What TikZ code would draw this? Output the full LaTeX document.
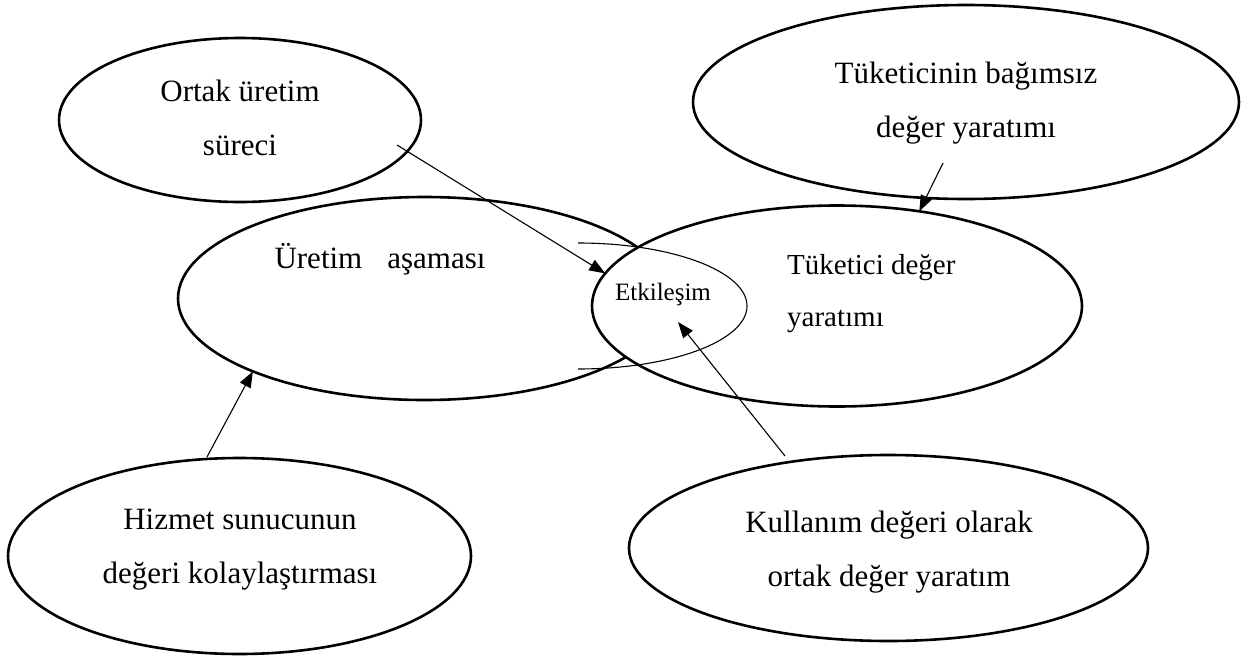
\documentclass[tikz,border=0pt]{standalone}
\usepackage{fontspec}
\setmainfont{Liberation Serif}
\usetikzlibrary{shapes.geometric,arrows.meta}
\begin{document}
\begin{tikzpicture}[x=1pt,y=-1pt,
  bubble/.style={draw, ellipse, line width=2.6pt, inner sep=0pt, outer sep=0pt},
  bigtext/.style={inner sep=0pt, align=center, font=\fontsize{31}{54}\selectfont},
  link/.style={line width=1.1pt, -{Triangle[length=16pt,width=12pt]}}
]
\useasboundingbox (0,0) rectangle (1254,659);

% outer bubbles
\node[bubble, minimum width=362pt, minimum height=164pt] (ortak) at (240,120) {};
\node[bubble, minimum width=546pt, minimum height=194pt] (bagimsiz) at (966,102) {};
\node[bubble, minimum width=493pt, minimum height=203pt] (uretim) at (424.5,298.5) {};
\node[bubble, fill=white, minimum width=490pt, minimum height=201pt] (tuketici) at (837,306) {};
\node[bubble, minimum width=463pt, minimum height=196pt] (hizmet) at (239.5,556) {};
\node[bubble, minimum width=519pt, minimum height=186pt] (kullanim) at (888.5,548) {};

% overlap zone
\draw[line width=1.1pt] (578,243) arc[start angle=90, end angle=-90, x radius=169pt, y radius=63pt];

% texts
\node[bigtext, anchor=north] (tOrtak) at (240,80) {Ortak üretim\\süreci};
\node[bigtext, anchor=north] (tBagimsiz) at (966,62) {Tüketicinin bağımsız\\değer yaratımı};
\node[bigtext, anchor=base] (tUretim) at (380,268) {Üretim\hspace{25pt}aşaması};
\node[inner sep=0pt, align=left, anchor=north west, font=\fontsize{29}{52}\selectfont] (tTuketici) at (787,254) {Tüketici değer\\yaratımı};
\node[inner sep=0pt, anchor=base, font=\fontsize{25}{30}\selectfont] (tEtkilesim) at (663,300) {Etkileşim};
\node[bigtext, anchor=north] (tHizmet) at (240,509) {Hizmet sunucunun\\değeri kolaylaştırması};
\node[bigtext, anchor=north] (tKullanim) at (889,511) {Kullanım değeri olarak\\ortak değer yaratım};

% connector ends
\coordinate (sOrtak) at (397,145);
\coordinate (sBagimsiz) at (943,163);
\coordinate (sHizmet) at (207,457);
\coordinate (sKullanim) at (785,456);
\coordinate (eEtkilesim) at (678,322);

% connectors
\draw[link] (sOrtak) -- (tuketici.172);
\draw[link] (sBagimsiz) -- (tuketici.49);
\draw[link] (sHizmet) -- (uretim.203);
\draw[link] (sKullanim) -- (eEtkilesim);
\end{tikzpicture}
\end{document}
